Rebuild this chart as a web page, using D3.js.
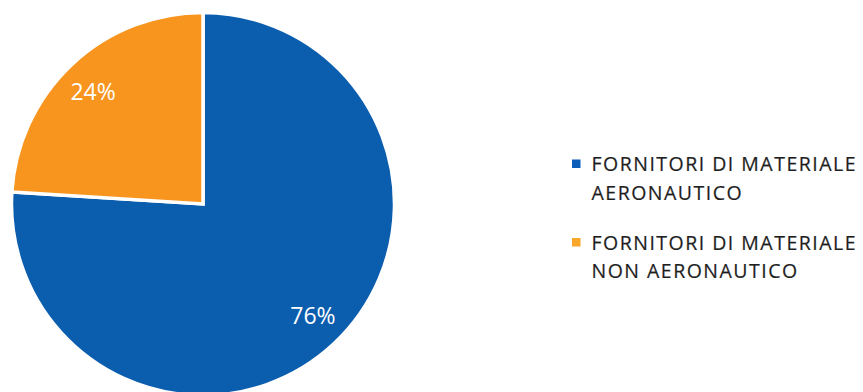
<!DOCTYPE html>
<html>
<head>
<meta charset="utf-8">
<script src="https://cdn.jsdelivr.net/npm/d3@7"></script>
<style>
  html, body { margin: 0; padding: 0; background: #ffffff; }
  svg { display: block; }
</style>
</head>
<body>
<svg id="chart" width="863" height="392"></svg>
<script>
// Supplier mix
const categories = [
  ["FORNITORI DI MATERIALE", "AERONAUTICO"],
  ["FORNITORI DI MATERIALE", "NON AERONAUTICO"]
];
const values = [76, 24];
const valueLabels = ["76%", "24%"];
const colors = ["#0B5DAE", "#F8951F"];
const legendColors = ["#0B5DB8", "#FAA62A"];

const svg = d3.select("#chart");
const cx = 203, cy = 204, radius = 191.5;

const pie = d3.pie().sort(null).value(d => d)(values);
const arc = d3.arc().innerRadius(0).outerRadius(radius);

const g = svg.append("g").attr("transform", `translate(${cx},${cy})`);

g.selectAll("path.slice")
  .data(pie)
  .join("path")
  .attr("class", "slice")
  .attr("d", arc)
  .attr("fill", (d, i) => colors[i])
  .attr("stroke", "#ffffff")
  .attr("stroke-width", 3.5)
  .attr("stroke-linejoin", "miter");

// value labels sit a little inside the rim, near each slice's mid-angle
g.selectAll("text.val")
  .data(pie)
  .join("text")
  .attr("class", "val")
  .attr("transform", d => {
    const mid = (d.startAngle + d.endAngle) / 2 - 0.022;
    const [x, y] = d3.pointRadial(mid, 157);
    return `translate(${x},${y})`;
  })
  .attr("text-anchor", "middle")
  .attr("dy", "0.36em")
  .attr("fill", "#ffffff")
  .style("font-family", "'Open Sans', sans-serif")
  .style("font-size", "23px")
  .text((d, i) => valueLabels[i]);

// Legend
const legend = svg.append("g").attr("transform", "translate(572,0)");
const rowTop = [159.5, 238];
const legendRows = legend.selectAll("g.item")
  .data(categories)
  .join("g")
  .attr("class", "item")
  .attr("transform", (d, i) => `translate(0,${rowTop[i]})`);

legendRows.append("rect")
  .attr("x", 0)
  .attr("y", 0)
  .attr("width", 8.5)
  .attr("height", 8.5)
  .attr("fill", (d, i) => legendColors[i]);

const legendText = legendRows.append("text")
  .attr("x", 19.5)
  .attr("y", 11.5)
  .attr("fill", "#1e1e1e")
  .attr("stroke", "#1e1e1e")
  .attr("stroke-width", 0.2)
  .style("font-family", "'Open Sans', sans-serif")
  .style("font-size", "19.5px");

legendText.selectAll("tspan")
  .data(d => d)
  .join("tspan")
  .attr("x", 19.5)
  .attr("dy", (d, j) => j === 0 ? 0 : 28.6)
  .text(d => d);

// widen tracking so the longest legend line spans 264px
const probe = legendText.select("tspan").node();
const natural = probe.getComputedTextLength();
const chars = probe.textContent.length;
const spacing = Math.max(0, (264 - natural) / (chars - 1));
legendText.style("letter-spacing", spacing + "px");
</script>
</body>
</html>
